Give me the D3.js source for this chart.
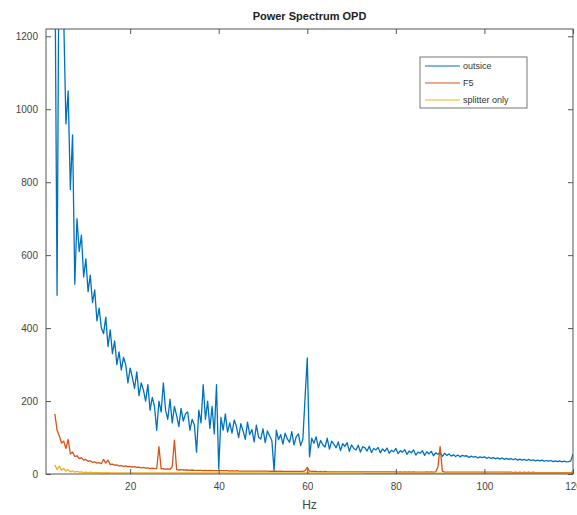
<!DOCTYPE html>
<html>
<head>
<meta charset="utf-8">
<script src="https://cdn.jsdelivr.net/npm/d3@7"></script>
<style>
  body { margin: 0; background: #fff; }
  svg { font-family: Helvetica, Arial, "Liberation Sans", sans-serif; }
</style>
</head>
<body>
<div id="chart"></div>
<script>
// frequency bins (Hz), 0.5 Hz resolution from 3 to 120
const hzStart = 3, hzEnd = 120, hzStep = 0.5;

// "outsice" spectrum, one value per bin
const outsice = [
  1450, 490, 1600, 1380, 1250, 960, 1050, 780, 930, 520, 700, 610, 655, 540, 590, 500, 545, 470, 505, 420,
  455, 400, 385, 430, 350, 395, 330, 365, 300, 335, 285, 320, 300, 250, 290, 265, 235, 280, 215, 250,
  230, 200, 245, 175, 210, 185, 120, 200, 170, 250, 175, 150, 205, 140, 185, 160, 130, 180, 145, 165,
  170, 120, 150, 135, 60, 175, 140, 245, 150, 200, 125, 185, 110, 245, 15, 155, 120, 165, 115, 140,
  112, 148, 130, 100, 138, 118, 95, 142, 108, 122, 88, 134, 101, 96, 124, 86, 118, 104, 92, 10,
  120, 94, 108, 82, 112, 96, 87, 116, 80, 102, 110, 78, 95, 210, 318, 47, 98, 84, 102, 72,
  92, 80, 74, 98, 68, 90, 82, 72, 88, 64, 83, 76, 86, 62, 80, 70, 66, 79, 60, 75,
  72, 63, 76, 59, 70, 66, 73, 58, 69, 62, 71, 57, 65, 61, 70, 56, 64, 60, 67, 54,
  63, 58, 66, 52, 60, 57, 64, 51, 61, 55, 62, 50, 58, 54, 60, 48, 57, 51, 55, 49,
  53, 48, 52, 47, 51, 49, 50, 45, 49, 46, 48, 44, 47, 45, 47, 43, 46, 43, 45, 42,
  44, 41, 44, 40, 43, 40, 42, 39, 42, 38, 41, 38, 40, 37, 40, 37, 39, 36, 38, 36,
  38, 35, 37, 35, 37, 34, 36, 34, 36, 33, 35, 33, 34, 36, 55
];

// "F5" spectrum
const f5 = [
  165, 120, 105, 85, 90, 70, 95, 55, 60, 48, 50, 42, 45, 38, 40, 35, 36, 32, 33, 30,
  31, 28, 40, 30, 38, 26, 27, 24, 25, 22, 23, 21, 22, 20, 21, 19, 20, 18, 19, 17,
  18, 16, 17, 15, 16, 15, 15, 75, 14, 15, 13, 14, 13, 20, 93, 12, 11, 12, 11, 11,
  11, 10, 11, 10, 10, 10, 10, 9, 10, 9, 10, 9, 9, 9, 9, 9, 9, 9, 9, 8,
  9, 8, 9, 8, 8, 8, 8, 8, 8, 8, 8, 8, 8, 8, 8, 8, 8, 7, 8, 7,
  8, 7, 8, 7, 7, 7, 7, 7, 7, 7, 7, 7, 7, 9, 18, 8, 7, 7, 7, 6,
  7, 6, 7, 6, 6, 6, 6, 6, 6, 6, 6, 6, 6, 6, 6, 6, 6, 6, 6, 6,
  6, 6, 6, 6, 6, 6, 6, 6, 6, 6, 6, 6, 6, 6, 6, 5, 6, 5, 6, 5,
  6, 5, 6, 5, 5, 5, 5, 5, 6, 5, 6, 5, 6, 20, 75, 8, 5, 5, 5, 5,
  5, 5, 5, 5, 5, 5, 5, 5, 5, 5, 5, 5, 5, 5, 5, 5, 5, 5, 5, 5,
  5, 5, 5, 5, 5, 5, 5, 4, 5, 4, 5, 4, 5, 4, 5, 4, 5, 4, 4, 4,
  4, 4, 4, 4, 4, 4, 4, 4, 4, 4, 4, 4, 4, 4, 6
];

// "splitter only" spectrum
const splitter = [
  25, 12, 22, 10, 15, 8, 12, 6, 9, 5, 7, 5, 6, 4, 5, 4, 5, 4, 4, 4,
  4, 3, 4, 3, 4, 3, 3, 3, 3, 3, 3, 3, 3, 3, 3, 3, 3, 3, 3, 3,
  3, 3, 3, 3, 3, 3, 3, 3, 3, 3, 3, 3, 3, 3, 3, 3, 3, 3, 3, 3,
  3, 3, 3, 3, 3, 3, 3, 3, 3, 3, 3, 3, 3, 3, 3, 3, 3, 3, 3, 3,
  3, 3, 3, 3, 3, 3, 3, 3, 3, 3, 3, 3, 3, 3, 3, 3, 3, 3, 3, 3,
  3, 3, 3, 3, 3, 3, 3, 3, 3, 3, 3, 3, 3, 3, 4, 3, 3, 3, 3, 3,
  3, 3, 3, 3, 3, 3, 3, 3, 3, 3, 3, 3, 3, 3, 3, 3, 3, 3, 3, 3,
  2, 2, 2, 2, 2, 2, 2, 2, 2, 2, 2, 2, 2, 2, 2, 2, 2, 2, 2, 2,
  2, 2, 2, 2, 2, 2, 2, 2, 2, 2, 2, 2, 2, 2, 3, 2, 2, 2, 2, 2,
  2, 2, 2, 2, 2, 2, 2, 2, 2, 2, 2, 2, 2, 2, 2, 2, 2, 2, 2, 2,
  2, 2, 2, 2, 2, 2, 2, 2, 2, 2, 2, 2, 2, 2, 2, 2, 2, 2, 2, 2,
  2, 2, 2, 2, 2, 2, 2, 2, 2, 2, 2, 2, 2, 2, 2
];

const seriesNames = ["outsice", "F5", "splitter only"];
const seriesColors = ["#0072BD", "#D95319", "#EDB120"];
const xTicks = [20, 40, 60, 80, 100, 120];
const yTicks = [0, 200, 400, 600, 800, 1000, 1200];

const hz = d3.range(hzStart, hzEnd + hzStep / 2, hzStep);
const series = [outsice, f5, splitter].map((vals, i) => ({
  name: seriesNames[i],
  color: seriesColors[i],
  points: vals.map((v, j) => [hz[j], v])
}));

const W = 577, H = 515;
const margin = {top: 29, right: 4, bottom: 41, left: 46};
const width = W - margin.left - margin.right,
      height = H - margin.top - margin.bottom;

const svg = d3.select("#chart").append("svg")
    .attr("width", W)
    .attr("height", H);

const g = svg.append("g")
    .attr("transform", `translate(${margin.left},${margin.top})`);

const x = d3.scaleLinear().domain([1, 120]).range([0, width]);
const y = d3.scaleLinear().domain([0, 1220]).range([height, 0]);

const axisColor = "#555";

// clip lines to the axes box
g.append("clipPath").attr("id", "plot-clip")
  .append("rect").attr("width", width).attr("height", height);

const line = d3.line().x(d => x(d[0])).y(d => y(d[1]));

g.append("g").attr("clip-path", "url(#plot-clip)")
  .selectAll("path")
  .data(series)
  .join("path")
    .attr("fill", "none")
    .attr("stroke", d => d.color)
    .attr("stroke-width", 1.3)
    .attr("stroke-linejoin", "round")
    .attr("d", d => line(d.points));

// axes, ticks pointing inward like MATLAB
const tickLen = 5;
const styleAxis = sel => {
  sel.select(".domain").remove();
  sel.selectAll(".tick line").attr("stroke", axisColor);
  sel.selectAll(".tick text").attr("fill", "#444").attr("font-size", 10);
};

g.append("g")
  .attr("transform", `translate(0,${height})`)
  .call(d3.axisBottom(x).tickValues(xTicks).tickSizeInner(-tickLen).tickSizeOuter(0).tickPadding(9))
  .call(styleAxis);
g.append("g")
  .call(d3.axisTop(x).tickValues(xTicks).tickSizeInner(-tickLen).tickSizeOuter(0).tickFormat(""))
  .call(styleAxis);
g.append("g")
  .call(d3.axisLeft(y).tickValues(yTicks).tickSizeInner(-tickLen).tickSizeOuter(0)
    .tickPadding(8).tickFormat(d3.format("d")))
  .call(styleAxis);
g.append("g")
  .attr("transform", `translate(${width},0)`)
  .call(d3.axisRight(y).tickValues(yTicks).tickSizeInner(-tickLen).tickSizeOuter(0).tickFormat(""))
  .call(styleAxis);

g.append("rect")
  .attr("width", width)
  .attr("height", height)
  .attr("fill", "none")
  .attr("stroke", axisColor)
  .attr("stroke-width", 1);

// title and x label
svg.append("text")
  .attr("x", margin.left + width / 2)
  .attr("y", 20)
  .attr("text-anchor", "middle")
  .attr("font-size", 11)
  .attr("font-weight", "bold")
  .attr("fill", "#222")
  .text("Power Spectrum OPD");

svg.append("text")
  .attr("x", margin.left + width / 2)
  .attr("y", 509)
  .attr("text-anchor", "middle")
  .attr("font-size", 12)
  .attr("fill", "#444")
  .text("Hz");

// legend
const legend = svg.append("g").attr("transform", "translate(420,57)");
legend.append("rect")
  .attr("width", 107)
  .attr("height", 51)
  .attr("fill", "#fff")
  .attr("stroke", "#777")
  .attr("stroke-width", 1);
const items = legend.selectAll("g.item")
  .data(series)
  .join("g")
    .attr("class", "item")
    .attr("transform", (d, i) => `translate(0,${9 + i * 17})`);
items.append("line")
  .attr("x1", 5).attr("x2", 40)
  .attr("stroke", d => d.color)
  .attr("stroke-width", 1);
items.append("text")
  .attr("x", 43)
  .attr("dy", "0.35em")
  .attr("font-size", 9)
  .attr("fill", "#333")
  .text(d => d.name);
</script>
</body>
</html>
